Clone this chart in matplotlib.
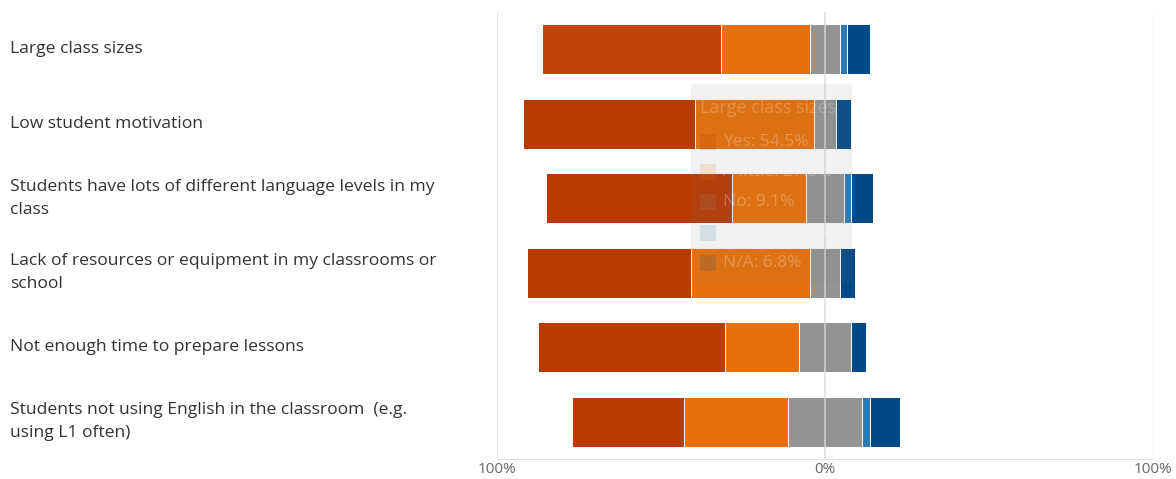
import numpy as np
import matplotlib.pyplot as plt
from matplotlib.patches import FancyBboxPatch, Rectangle
from matplotlib.transforms import blended_transform_factory

# Survey answers, % of respondents (n = 44)
categories = ['Large class sizes',
              'Low student motivation',
              'Students have lots of different language levels in my\nclass',
              'Lack of resources or equipment in my classrooms or\nschool',
              'Not enough time to prepare lessons',
              'Students not using English in the classroom  (e.g.\nusing L1 often)']
yes = [54.5, 52.3, 56.8, 50.0, 56.8, 34.1]
a_little = [27.3, 36.4, 22.7, 36.4, 22.7, 31.8]
no = [9.1, 6.8, 11.4, 9.1, 15.9, 22.7]
not_sure = [2.3, 0.0, 2.3, 0.0, 0.0, 2.3]
na = [6.8, 4.5, 6.8, 4.5, 4.5, 9.1]

series_names = ['Yes', 'A little', 'No', 'Not sure', 'N/A']
colors = ['#BA3A02', '#E8700A', '#939393', '#2E7BB4', '#004A87']

tick_pos = [-100, 0, 100]
tick_labels = ['100%', '0%', '100%']

# tooltip content (hovered bar)
tip_title = 'Large class sizes'
tip_values = [54.5, 27.3, 9.1, 2.3, 6.8]

plt.rcParams['font.family'] = ['Open Sans', 'DejaVu Sans']

fig = plt.figure(figsize=(11.76, 4.79), dpi=100)
ax = fig.add_axes([497.3 / 1176, 20 / 479, 655.4 / 1176, 447 / 479])

y = np.arange(len(categories))
yes_a = np.array(yes)
little_a = np.array(a_little)
no_a = np.array(no)
ns_a = np.array(not_sure)
na_a = np.array(na)

# diverging: "No" split around zero
left = -(yes_a + little_a + no_a / 2)
stack = [yes_a, little_a, no_a, ns_a, na_a]
h = 0.665
for k, vals in enumerate(stack):
    cols = [colors[k]] * len(y)
    if k == 0:
        cols[0] = '#C2430D'  # hovered bar is a bit lighter
    ax.barh(y, vals, left=left, height=h, color=cols, edgecolor='white',
            linewidth=0.7, zorder=2)
    left = left + vals

ax.set_xlim(-100, 100)
ax.set_ylim(len(categories) - 0.5, -0.5)
ax.set_yticks([])
ax.set_xticks(tick_pos)
ax.set_xticklabels(tick_labels, color='#666666', fontsize=11)
ax.tick_params(axis='x', length=0, pad=2)
for s in ['top', 'right', 'left']:
    ax.spines[s].set_visible(False)
ax.spines['bottom'].set_color('#e0e0e0')
ax.axvline(-100, color='#e6e6e6', lw=1, zorder=1)
ax.axvline(100, color='#e6e6e6', lw=1, zorder=1)
ax.axvline(0, color='#d9d9d9', lw=1.2, alpha=0.85, zorder=6)

# category labels on the far left
tr = blended_transform_factory(fig.transFigure, ax.transData)
for i, lab in enumerate(categories):
    ax.text(10 / 1176, i, lab, transform=tr, ha='left', va='center',
            fontsize=12.6, color='#333333', linespacing=1.62, clip_on=False)

# faded tooltip
fx = lambda px: px / 1176
fy = lambda py: (479 - py) / 479
box = FancyBboxPatch((fx(691), fy(283)), fx(852) - fx(691), fy(84) - fy(283),
                     boxstyle='round,pad=0,rounding_size=0.005',
                     transform=fig.transFigure, facecolor='#808080',
                     edgecolor='none', alpha=0.11, zorder=5)
fig.patches.append(box)
fig.text(fx(700), fy(108), tip_title, fontsize=13, color='white', alpha=0.22,
         va='center', ha='left', zorder=6)
row_y = [142, 172, 202, 233, 263]
for k in range(len(series_names)):
    fig.patches.append(Rectangle((fx(700), fy(row_y[k] + 8)), fx(716) - fx(700),
                                 fy(row_y[k] - 8) - fy(row_y[k] + 8),
                                 transform=fig.transFigure, facecolor=colors[k],
                                 edgecolor='none', alpha=0.15, zorder=6))
    fig.text(fx(723), fy(row_y[k]), '%s: %.1f%%' % (series_names[k], tip_values[k]),
             fontsize=12.5, color='white', alpha=0.25, va='center', ha='left', zorder=6)

plt.savefig('out.png', dpi=100)
